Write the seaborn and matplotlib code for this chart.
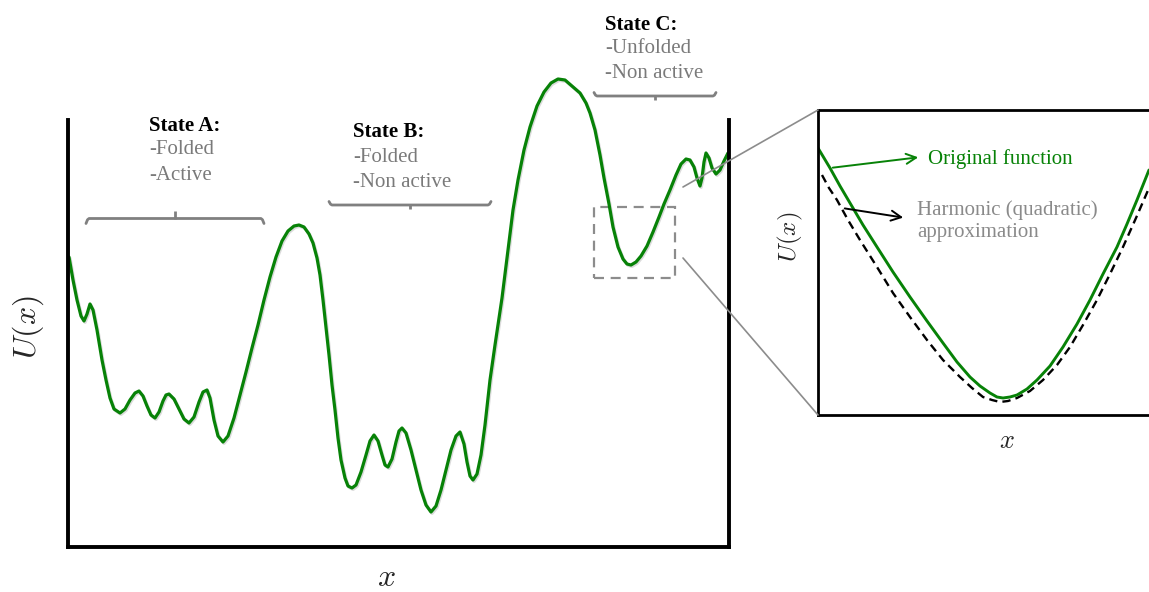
import matplotlib
matplotlib.use("Agg")
import matplotlib.pyplot as plt
import matplotlib.patheffects as pe
from matplotlib.patches import Rectangle
import pandas as pd
import seaborn as sns

# Energy landscape U(x) along the reaction coordinate (arbitrary units)
landscape_x = [0.1, 0.5, 0.9, 1.3, 1.6, 1.9, 2.2, 2.5, 2.9, 3.4, 3.8, 4.2, 4.6, 5.2, 5.7,
               6.2, 6.7, 7.1, 7.5, 7.9, 8.3, 8.7, 9.1, 9.5, 9.8, 10.1, 10.6, 11.1, 11.6,
               12.1, 12.6, 13.1, 13.5, 13.9, 14.2, 14.6, 15.0, 15.5, 16.0, 16.6, 17.2,
               17.8, 18.4, 19.0, 19.6, 20.2, 20.8, 21.4, 22.0, 22.6, 23.1, 23.6, 24.1,
               24.5, 24.9, 25.2, 25.5, 25.8, 26.1, 26.4, 26.7, 27.0, 27.3, 27.7, 28.0,
               28.4, 28.8, 29.3, 29.8, 30.2, 30.6, 31.0, 31.4, 31.7, 32.0, 32.4, 32.8,
               33.1, 33.4, 33.8, 34.3, 34.8, 35.3, 35.8, 36.3, 36.8, 37.3, 37.8, 38.3,
               38.8, 39.2, 39.6, 39.9, 40.2, 40.5, 40.9, 41.3, 41.7, 42.2, 42.7, 43.4,
               44.0, 44.5, 45.0, 45.6, 46.2, 46.9, 47.6, 48.3, 49.0, 49.7, 50.4, 51.2,
               51.8, 52.2, 52.7, 53.2, 53.6, 54.1, 54.5, 55.0, 55.5, 55.9, 56.3, 56.8,
               57.3, 57.9, 58.5, 59.1, 59.6, 60.2, 60.8, 61.3, 61.8, 62.2, 62.6, 62.9,
               63.2, 63.4, 63.6, 63.8, 64.1, 64.4, 64.8, 65.2, 65.6, 66.0]
landscape_u = [29.0, 26.7, 24.7, 23.1, 22.6, 23.3, 24.3, 23.7, 21.7, 18.7, 16.7, 14.9,
               13.8, 13.4, 13.8, 14.7, 15.4, 15.6, 15.1, 14.1, 13.2, 12.9, 13.5, 14.6,
               15.2, 15.3, 14.8, 13.8, 12.8, 12.4, 13.0, 14.5, 15.5, 15.7, 14.9, 12.7,
               11.1, 10.5, 11.1, 12.9, 15.2, 17.5, 19.9, 22.2, 24.7, 27.0, 29.0, 30.6,
               31.6, 32.1, 32.2, 32.0, 31.3, 30.4, 28.9, 27.2, 24.7, 22.0, 19.2, 16.2,
               13.7, 10.9, 8.7, 6.9, 6.1, 5.9, 6.2, 7.5, 9.2, 10.6, 11.2, 10.6, 9.2, 8.2,
               8.0, 8.8, 10.5, 11.6, 11.9, 11.4, 9.7, 7.7, 5.7, 4.2, 3.5, 4.1, 5.7, 7.7,
               9.7, 11.1, 11.5, 10.3, 8.5, 7.1, 6.7, 7.3, 9.2, 12.2, 16.7, 20.2, 24.9,
               29.7, 33.7, 36.7, 39.7, 42.0, 44.1, 45.5, 46.4, 46.8, 46.7, 46.1, 45.4,
               44.4, 43.4, 41.7, 39.2, 36.9, 34.3, 32.0, 30.0, 28.8, 28.3, 28.2, 28.5,
               29.1, 30.1, 31.5, 33.0, 34.3, 35.7, 37.2, 38.3, 38.8, 38.7, 38.0, 36.9,
               36.1, 36.9, 38.5, 39.4, 38.9, 37.9, 37.3, 37.7, 38.6, 39.4]

# Close-up of the state C basin: original function and its harmonic approximation
basin_x = [0.0, 0.6, 1.2, 2.2, 3.2, 4.5, 5.9, 7.5, 9.2, 10.9, 12.5, 13.9, 15.2, 16.2,
           17.2, 17.9, 18.5, 19.2, 19.9, 20.9, 21.9, 23.2, 24.5, 25.9, 27.2, 28.5,
           29.9, 30.9, 31.9, 33.1]
basin_u = [26.7, 25.7, 24.7, 22.9, 21.2, 19.0, 16.8, 14.3, 11.8, 9.4, 7.2, 5.3, 3.8,
           2.9, 2.2, 1.8, 1.7, 1.8, 2.0, 2.6, 3.5, 4.9, 6.8, 9.1, 11.5, 14.1, 16.8,
           19.1, 21.5, 24.5]
harmonic_x = [0.4, 1.1, 1.9, 3.0, 4.2, 5.9, 7.5, 9.2, 10.9, 12.5, 14.2, 15.4, 16.5,
              17.4, 18.2, 19.0, 19.9, 21.2, 22.5, 23.9, 25.2, 26.5, 27.9, 29.2, 30.5,
              31.8, 33.1]
harmonic_u = [24.0, 22.7, 21.5, 19.5, 17.5, 14.8, 12.2, 9.8, 7.5, 5.5, 3.8, 2.7, 1.8,
              1.5, 1.3, 1.4, 1.7, 2.4, 3.5, 5.0, 6.8, 9.0, 11.5, 14.1, 16.8, 19.7, 22.7]

# Zoomed window around the state C minimum (landscape units)
window_x = (52.6, 60.7)
window_u = (26.9, 34.0)

state_titles = ["State A:", "State B:", "State C:"]
state_traits = [["-Folded", "-Active"],
                ["-Folded", "-Non active"],
                ["-Unfolded", "-Non active"]]

GREEN = "#078207"
GRAY = "#808080"
W, H = 1149, 592

sns.set_theme(style="white")
plt.rcParams["font.family"] = ["Liberation Serif", "DejaVu Serif"]
plt.rcParams["mathtext.fontset"] = "cm"

fig = plt.figure(figsize=(W / 100, H / 100), dpi=100)

# ---- main landscape -------------------------------------------------------
ax = fig.add_axes([68 / W, 45 / H, 661 / W, 487 / H])
land = pd.DataFrame({"x": landscape_x, "U": landscape_u})
sns.lineplot(data=land, x="x", y="U", ax=ax, color=GREEN, lw=2.3, sort=False,
             estimator=None)
ax.lines[0].set_path_effects([
    pe.SimpleLineShadow(offset=(0.8, -1.0), shadow_color="#9a9a9a", alpha=0.35),
    pe.Normal()])
ax.lines[0].set_solid_joinstyle("round")
ax.set_xlim(0, 66.1)
ax.set_ylim(0, 48.7)
ax.set_xticks([])
ax.set_yticks([])
ax.set_xlabel("")
ax.set_ylabel("")
ax.spines["top"].set_visible(False)
for side in ("left", "right", "bottom"):
    ax.spines[side].set_color("black")
    ax.spines[side].set_linewidth(2.8)
ax.spines["left"].set_bounds(0, 42.7)
ax.spines["right"].set_bounds(0, 42.7)
ax.add_patch(Rectangle((window_x[0], window_u[0]), window_x[1] - window_x[0],
                       window_u[1] - window_u[0], fill=False, ec="#8c8c8c",
                       lw=1.6, ls=(0, (4.5, 3))))

# ---- inset: harmonic approximation ---------------------------------------
axi = fig.add_axes([818 / W, 177 / H, 337 / W, 305 / H])
basin = pd.DataFrame({"x": basin_x, "U": basin_u})
harm = pd.DataFrame({"x": harmonic_x, "U": harmonic_u})
sns.lineplot(data=harm, x="x", y="U", ax=axi, color="black", lw=1.7, sort=False,
             estimator=None, dashes=False)
axi.lines[0].set_linestyle((0, (3.5, 2.2)))
sns.lineplot(data=basin, x="x", y="U", ax=axi, color=GREEN, lw=2.1, sort=False,
             estimator=None)
axi.lines[1].set_solid_joinstyle("round")
axi.set_xlim(0, 33.7)
axi.set_ylim(0, 30.5)
axi.set_xticks([])
axi.set_yticks([])
axi.set_xlabel("")
axi.set_ylabel("")
for side in ("left", "right", "bottom", "top"):
    axi.spines[side].set_color("black")
    axi.spines[side].set_linewidth(2.0)

# ---- annotation layer in pixel coordinates --------------------------------
ov = fig.add_axes([0, 0, 1, 1], zorder=5)
ov.set_xlim(0, W)
ov.set_ylim(H, 0)
ov.axis("off")


def brace(x0, x1, y, xm, hook, tick):
    """Horizontal curly bracket; hook/tick are pixel offsets of ends and centre."""
    ov.plot([x0, x0 + 1.5, x0 + 3, x1 - 3, x1 - 1.5, x1],
            [y + hook, y + hook * 0.25, y, y, y + hook * 0.25, y + hook],
            color=GRAY, lw=2.0, solid_capstyle="round", solid_joinstyle="round")
    ov.plot([xm, xm], [y, y + tick], color=GRAY, lw=2.0, solid_capstyle="butt")


brace(86, 264, 218.5, 174.5, 5, -7.5)
brace(329, 491, 205, 410, -3.5, 4)
brace(594, 716, 96, 654.5, -3.5, 4)

title_pos = [(149, 131), (353, 137), (605, 30)]
trait_base = [(154, 180), (162, 187), (53, 78)]
for (tx, ty), title, traits, bases in zip(title_pos, state_titles, state_traits,
                                          trait_base):
    ov.text(tx, ty, title, fontsize=15, fontweight="bold", color="black",
            va="baseline", ha="left")
    for label, yb in zip(traits, bases):
        ov.text(tx, yb, label, fontsize=15, color="#7a7a7a", va="baseline",
                ha="left")

# axis labels
ov.text(386, 586, r"$x$", fontsize=23, ha="center", va="baseline")
ov.text(28, 327, r"$U(x)$", fontsize=23, ha="center", va="center", rotation=90)
ov.text(1007, 448, r"$x$", fontsize=19, ha="center", va="baseline")
ov.text(790, 237, r"$U(x)$", fontsize=18, ha="center", va="center", rotation=90)

# connectors from the zoom window to the inset
ov.plot([683, 818], [187, 110], color="#8c8c8c", lw=1.2)
ov.plot([683, 818], [258, 415], color="#8c8c8c", lw=1.2)

# inset annotations
ov.annotate("", xy=(921, 157), xytext=(830, 168),
            arrowprops=dict(arrowstyle="->,head_length=0.6,head_width=0.3",
                            color=GREEN, lw=1.4))
ov.text(928, 164, "Original function", fontsize=15, color=GREEN, va="baseline",
        ha="left")
ov.annotate("", xy=(906, 218), xytext=(842, 208),
            arrowprops=dict(arrowstyle="->,head_length=0.6,head_width=0.3",
                            color="black", lw=1.4))
ov.text(917, 215, "Harmonic (quadratic)", fontsize=15, color="#8a8a8a",
        va="baseline", ha="left")
ov.text(917, 237, "approximation", fontsize=15, color="#8a8a8a", va="baseline",
        ha="left")

fig.savefig("out.png", dpi=100, facecolor="white")
